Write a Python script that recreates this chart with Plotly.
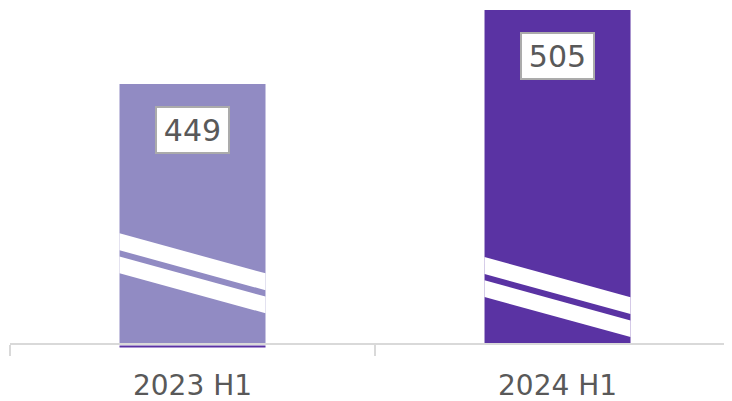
import plotly.graph_objects as go

# ---- data ----
categories = ["2023 H1", "2024 H1"]
values = [449, 505]
bar_colors = ["#918BC3", "#5A33A3"]
label_texts = ["449", "505"]

# break-mark positions (value at the left edge of each bar where the break starts)
break_start = [336.0, 318.0]

# ---- layout constants ----
Y_RANGE = [253.0, 506.5]
X_RANGE = [-0.5, 1.478]
BAR_W = 0.4
SLOPE = 30.3      # drop of the stripes across one bar, in y units
STRIPE1 = 12.8
GAP = 4.8
STRIPE2 = 12.6
FONT = "DejaVu Sans, Arial, sans-serif"

fig = go.Figure()
fig.add_trace(go.Bar(
    x=categories, y=values,
    marker=dict(color=bar_colors, line=dict(width=0)),
    width=BAR_W,
    hoverinfo="skip",
))

shapes = []
for i, top in enumerate(break_start):
    xl, xr = i - BAR_W / 2, i + BAR_W / 2
    a = top
    b = top - STRIPE1
    shapes.append(dict(
        type="path", xref="x", yref="y",
        path=f"M {xl},{a} L {xr},{a - SLOPE} L {xr},{b - SLOPE} L {xl},{b} Z",
        fillcolor="white", line=dict(width=0), layer="above"))
    c = b - GAP
    d = c - STRIPE2
    shapes.append(dict(
        type="path", xref="x", yref="y",
        path=f"M {xl},{c} L {xr},{c - SLOPE} L {xr},{d - SLOPE} L {xl},{d} Z",
        fillcolor="white", line=dict(width=0), layer="above"))

# thin dark line under the first bar
shapes.append(dict(type="line", xref="x", yref="paper",
                   x0=-BAR_W / 2, x1=BAR_W / 2, y0=-0.0105, y1=-0.0105,
                   line=dict(color=bar_colors[1], width=2)))

annotations = []
for i, (v, t) in enumerate(zip(values, label_texts)):
    annotations.append(dict(
        x=categories[i], y=v, xref="x", yref="y",
        text=t, showarrow=False, yanchor="top", xanchor="center",
        yshift=-22,
        font=dict(family=FONT, size=30, color="#595959"),
        bgcolor="white", bordercolor="#ABABAB", borderwidth=2, borderpad=2,
        width=67, height=40,
    ))

fig.update_layout(
    width=724, height=393,
    margin=dict(l=2, r=0, t=0, b=58),
    paper_bgcolor="white", plot_bgcolor="white",
    showlegend=False,
    shapes=shapes,
    annotations=annotations,
    xaxis=dict(
        type="category", range=X_RANGE,
        showline=True, linecolor="#D9D9D9", linewidth=2,
        ticks="outside", tickson="boundaries", ticklen=11,
        tickcolor="#D9D9D9", tickwidth=1.5,
        showgrid=False, zeroline=False,
        tickfont=dict(family=FONT, size=28, color="#595959"),
        ticklabelstandoff=16,
        automargin=False,
    ),
    yaxis=dict(
        range=Y_RANGE, visible=False, showgrid=False, zeroline=False,
    ),
)

fig.write_html("out.html")
